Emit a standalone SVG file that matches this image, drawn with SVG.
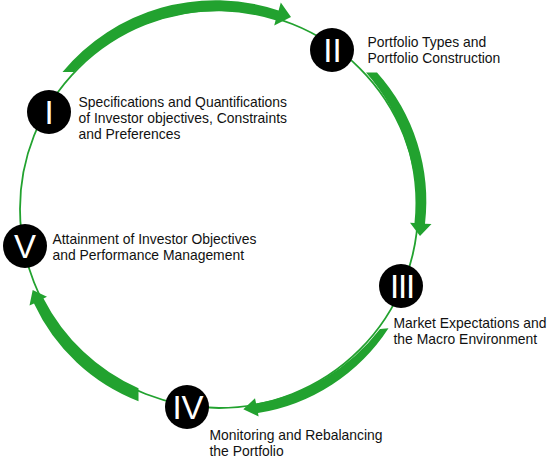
<svg xmlns="http://www.w3.org/2000/svg" width="551" height="461" viewBox="0 0 551 461">
<style>
.ring{fill:none;stroke:#22a22f;stroke-width:1.8}
.arr{fill:#22a22f;stroke:none}
.node{fill:#000}
.num{fill:#fff;font-family:"Liberation Sans",Arial,sans-serif;font-size:33px;text-anchor:middle}
.lbl{fill:#111;font-family:"Liberation Sans",Arial,sans-serif;font-size:13.9px}
</style>
<rect width="551" height="461" fill="#fff"/>
<g id="connectors">
<circle class="ring" cx="219" cy="209" r="199"/>
<path class="arr" d="M62.5,72 A199,199 0 0 1 278.6,10.4 L280.8,2.5 L291,17 L274.2,25.5 L275.6,20.3 A197,197 0 0 0 74,72 Z"/>
<path class="arr" d="M377,72.5 A193,193 0 0 1 425,223.7 L431.5,224 L420,236 L410,222.7 L414.5,223 A198,198 0 0 0 366,72.5 Z"/>
<path class="arr" d="M388.5,328.2 A192,192 0 0 1 258,413 L258.6,416.5 L243.3,409.3 L255,398.3 L256.1,403.5 A199,199 0 0 0 380,329 Z"/>
<path class="arr" d="M138.5,401.2 A191,191 0 0 1 34,303.5 L29.5,305.5 L32.7,290 L47,296.7 L43.5,298.4 A196,196 0 0 0 138.5,388.3 Z"/>
</g>
<g id="node1">
<circle class="node" cx="49" cy="112" r="22"/>
<text class="num" x="49" y="124">I</text>
<text class="lbl"><tspan x="78.5" y="106.7">Specifications and Quantifications</tspan><tspan x="78.5" y="122.7">of Investor objectives, Constraints</tspan><tspan x="78.5" y="138.7">and Preferences</tspan></text>
</g>
<g id="node2">
<circle class="node" cx="332" cy="50" r="22"/>
<text class="num" x="332.5" y="62">II</text>
<text class="lbl"><tspan x="367.5" y="46.7">Portfolio Types and</tspan><tspan x="367.5" y="62.7">Portfolio Construction</tspan></text>
</g>
<g id="node3">
<circle class="node" cx="401" cy="286" r="22"/>
<text class="num" x="402" y="298" letter-spacing="-1.2">III</text>
<text class="lbl"><tspan x="393.5" y="328.3">Market Expectations and</tspan><tspan x="393.5" y="344.3">the Macro Environment</tspan></text>
</g>
<g id="node4">
<circle class="node" cx="187" cy="407" r="22"/>
<text class="num" x="188" y="419">IV</text>
<text class="lbl"><tspan x="209.5" y="440">Monitoring and Rebalancing</tspan><tspan x="209.5" y="456">the Portfolio</tspan></text>
</g>
<g id="node5">
<circle class="node" cx="25" cy="246" r="22"/>
<text class="num" x="25" y="258">V</text>
<text class="lbl"><tspan x="52.5" y="244">Attainment of Investor Objectives</tspan><tspan x="52.5" y="260">and Performance Management</tspan></text>
</g>
</svg>
